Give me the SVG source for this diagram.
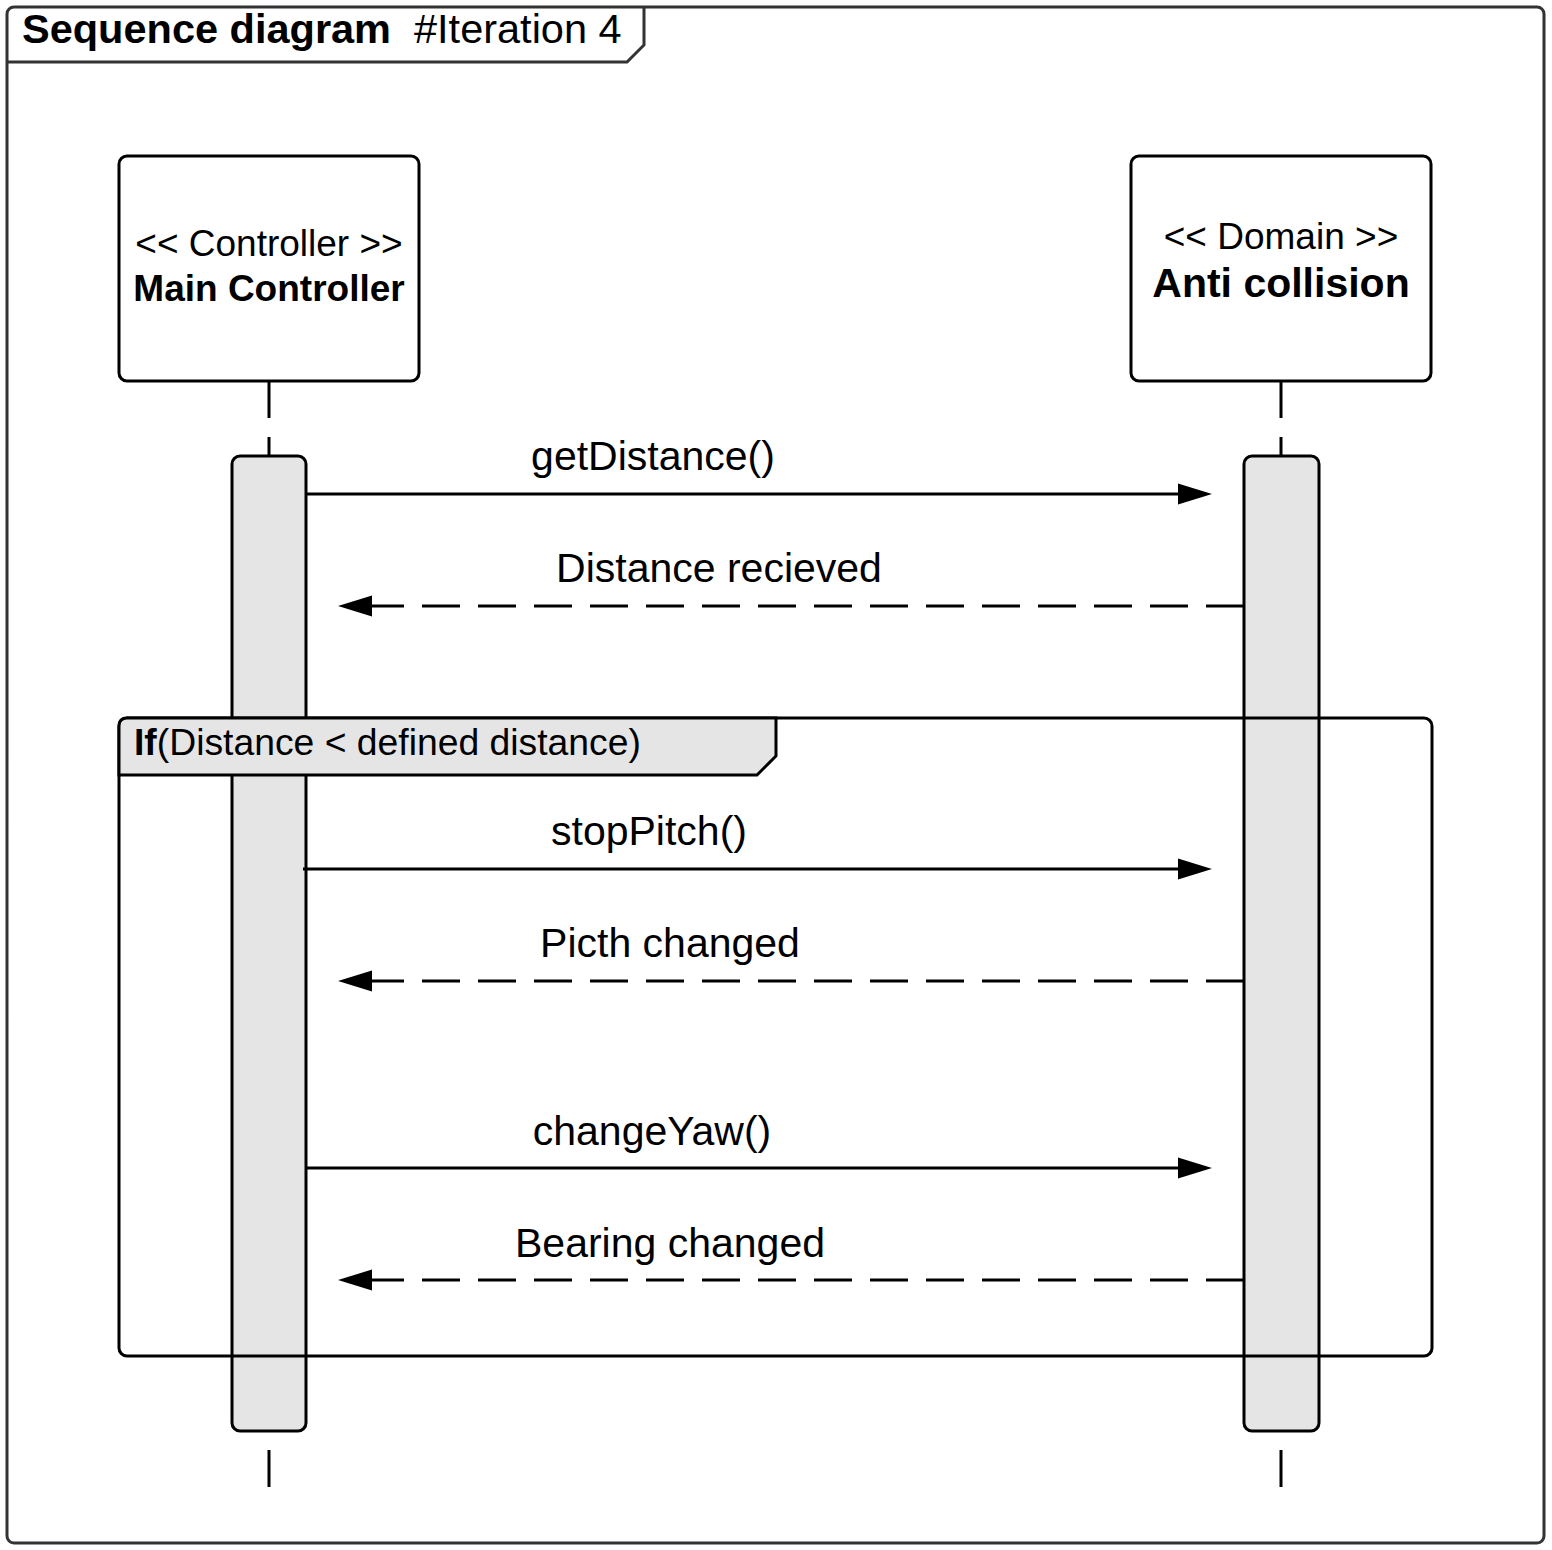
<svg xmlns="http://www.w3.org/2000/svg" width="1552" height="1550" viewBox="0 0 1552 1550">
<style>
  text { font-family: "Liberation Sans", Arial, sans-serif; fill: #000; }
  .msg { font-size: 41px; text-anchor: middle; }
  .stereo { font-size: 37px; text-anchor: middle; }
  .name { font-weight: bold; text-anchor: middle; }
  .box { fill: #fff; stroke: #000; stroke-width: 3; }
  .bar { fill: #e5e5e5; stroke: #000; stroke-width: 3; }
  .life { stroke: #000; stroke-width: 3; fill: none; }
  .call { stroke: #000; stroke-width: 3; fill: none; marker-end: url(#arrow); }
  .ret { stroke: #000; stroke-width: 3; fill: none; stroke-dasharray: 38 18; marker-end: url(#arrow); }
</style>
<defs>
  <marker id="arrow" viewBox="0 -12 36 24" markerWidth="36" markerHeight="24" refX="0" refY="0" markerUnits="userSpaceOnUse" orient="auto">
    <path d="M0,-10.5 L34,0 L0,10.5 Z" fill="#000"/>
  </marker>
</defs>
<rect x="0" y="0" width="1552" height="1550" fill="#fff"/>

<g id="frame">
  <rect x="7" y="7" width="1537" height="1536" rx="7" fill="#fff" stroke="#333" stroke-width="3"/>
  <path d="M7,62 L627,62 L644,45 L644,7" fill="none" stroke="#333" stroke-width="3"/>
  <text x="22" y="43" font-size="41.5"><tspan font-weight="bold">Sequence diagram</tspan><tspan x="414">#Iteration 4</tspan></text>
</g>

<g id="lifelines">
  <line class="life" x1="269" y1="381" x2="269" y2="418"/>
  <line class="life" x1="269" y1="437" x2="269" y2="456"/>
  <line class="life" x1="269" y1="1450" x2="269" y2="1487"/>
  <line class="life" x1="1281" y1="381" x2="1281" y2="418"/>
  <line class="life" x1="1281" y1="437" x2="1281" y2="456"/>
  <line class="life" x1="1281" y1="1450" x2="1281" y2="1487"/>
</g>

<g id="main-controller">
  <rect class="box" x="119" y="156" width="300" height="225" rx="8"/>
  <text class="stereo" x="269" y="256">&lt;&lt; Controller &gt;&gt;</text>
  <text class="name" x="269" y="301" font-size="37">Main Controller</text>
</g>

<g id="anti-collision">
  <rect class="box" x="1131" y="156" width="300" height="225" rx="8"/>
  <text class="stereo" x="1281" y="249">&lt;&lt; Domain &gt;&gt;</text>
  <text class="name" x="1281" y="297" font-size="41">Anti collision</text>
</g>

<g id="activation-main">
  <rect class="bar" x="232" y="456" width="74" height="975" rx="8"/>
</g>
<g id="activation-anti">
  <rect class="bar" x="1244" y="456" width="75" height="975" rx="8"/>
</g>

<g id="connectors">
  <line class="call" x1="306" y1="494" x2="1178" y2="494"/>
  <text class="msg" x="653" y="470">getDistance()</text>
  <line class="ret" x1="1244" y1="606" x2="372" y2="606"/>
  <text class="msg" x="719" y="582">Distance recieved</text>
  <line class="call" x1="303" y1="869" x2="1178" y2="869"/>
  <text class="msg" x="649" y="845">stopPitch()</text>
  <line class="ret" x1="1244" y1="981" x2="372" y2="981"/>
  <text class="msg" x="670" y="957">Picth changed</text>
  <line class="call" x1="306" y1="1168" x2="1178" y2="1168"/>
  <text class="msg" x="652" y="1145">changeYaw()</text>
  <line class="ret" x1="1244" y1="1280" x2="372" y2="1280"/>
  <text class="msg" x="670" y="1257">Bearing changed</text>
</g>

<g id="fragment-if">
  <rect x="119" y="718" width="1313" height="638" rx="8" fill="none" stroke="#000" stroke-width="3"/>
  <path d="M119,775 L119,726 Q119,718 127,718 L776,718 L776,756 L757,775 Z" fill="#e5e5e5" stroke="#000" stroke-width="3"/>
  <text x="134" y="755" font-size="37.3"><tspan font-weight="bold">If</tspan>(Distance &lt; defined distance)</text>
</g>
</svg>
